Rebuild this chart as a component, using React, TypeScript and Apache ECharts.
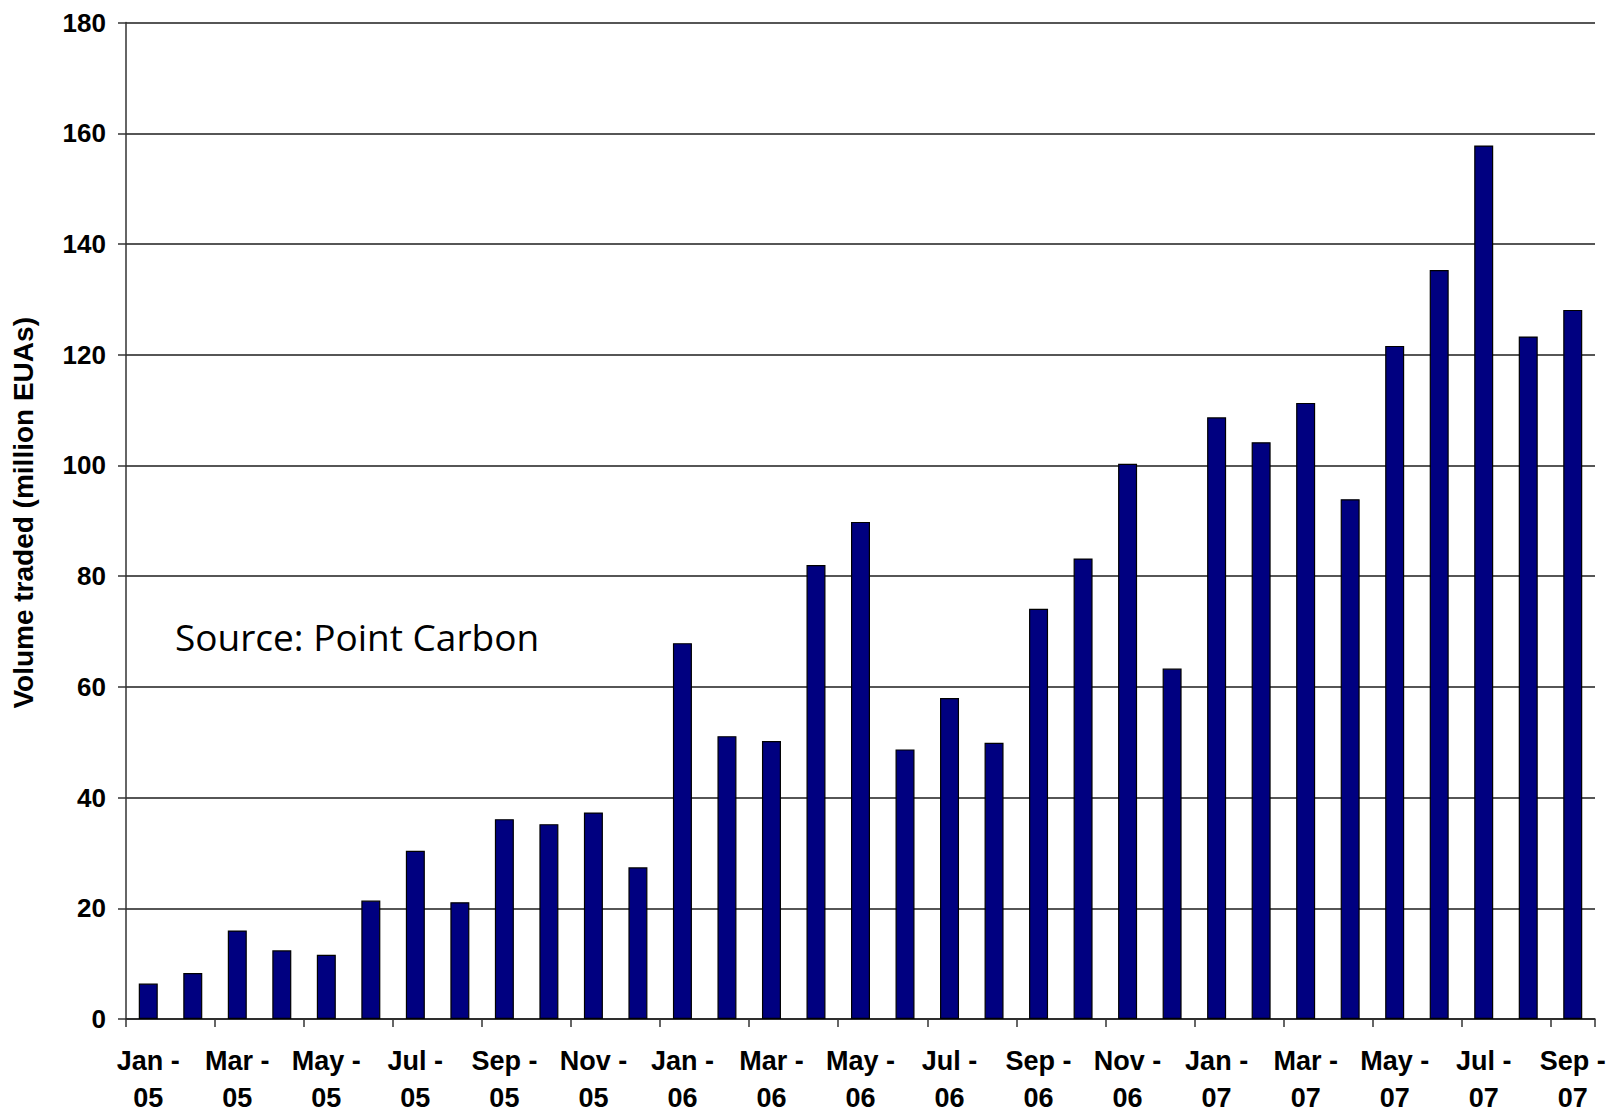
import React, { useEffect, useRef } from "react";
import * as echarts from "echarts";

const categories: string[] = [
  "Jan -\n05", "Feb -\n05", "Mar -\n05", "Apr -\n05", "May -\n05", "Jun -\n05",
  "Jul -\n05", "Aug -\n05", "Sep -\n05", "Oct -\n05", "Nov -\n05", "Dec -\n05",
  "Jan -\n06", "Feb -\n06", "Mar -\n06", "Apr -\n06", "May -\n06", "Jun -\n06",
  "Jul -\n06", "Aug -\n06", "Sep -\n06", "Oct -\n06", "Nov -\n06", "Dec -\n06",
  "Jan -\n07", "Feb -\n07", "Mar -\n07", "Apr -\n07", "May -\n07", "Jun -\n07",
  "Jul -\n07", "Aug -\n07", "Sep -\n07",
];

const volumes: number[] = [
  6.4, 8.3, 16.0, 12.4, 11.6, 21.4, 30.4, 21.1, 36.1, 35.2, 37.3, 27.4,
  67.9, 51.1, 50.2, 82.0, 89.8, 48.7, 58.0, 49.9, 74.1, 83.2, 100.3, 63.3,
  108.7, 104.2, 111.3, 93.9, 121.6, 135.3, 157.8, 123.3, 128.1,
];

const yTitle = "Volume traded (million EUAs)";
const sourceNote = "Source: Point Carbon";

export default function App() {
  const ref = useRef<HTMLDivElement>(null);

  useEffect(() => {
    if (!ref.current) return;
    const chart = echarts.init(ref.current, null, { renderer: "svg" });
    const font = "'Liberation Sans', Arial, sans-serif";
    chart.setOption({
      animation: false,
      backgroundColor: "#ffffff",
      grid: {
        left: 126,
        right: 15,
        top: 22.6,
        bottom: 92,
        containLabel: false,
        outerBoundsMode: "none",
      },
      xAxis: {
        type: "category",
        data: categories,
        boundaryGap: true,
        axisLine: { show: true, lineStyle: { color: "#222", width: 1.5 } },
        axisTick: {
          show: true,
          interval: 1,
          alignWithLabel: false,
          length: 8,
          lineStyle: { color: "#333", width: 1.5 },
        },
        axisLabel: {
          interval: 1,
          margin: 23,
          color: "#000",
          fontFamily: font,
          fontWeight: "bold",
          fontSize: 27,
          lineHeight: 37,
          align: "center",
        },
        splitLine: { show: false },
      },
      yAxis: {
        type: "value",
        min: 0,
        max: 180,
        interval: 20,
        name: yTitle,
        nameLocation: "middle",
        nameGap: 89,
        nameRotate: 90,
        nameTextStyle: {
          color: "#000",
          fontFamily: font,
          fontWeight: "bold",
          fontSize: 28,
          padding: [0, 0, 0, 16],
        },
        axisLine: { show: true, lineStyle: { color: "#333", width: 1.5 } },
        axisTick: { show: true, inside: false, length: 8, lineStyle: { color: "#333", width: 1.5 } },
        axisLabel: {
          margin: 20,
          color: "#000",
          fontFamily: font,
          fontWeight: "bold",
          fontSize: 26,
        },
        splitLine: { show: true, lineStyle: { color: "#1e1e1e", width: 1.5 } },
      },
      series: [
        {
          type: "bar",
          data: volumes,
          barWidth: 19,
          itemStyle: { color: "#000080", borderColor: "#000", borderWidth: 1.2 },
        },
      ],
      graphic: [
        {
          type: "text",
          left: 175,
          top: 618,
          style: {
            text: sourceNote,
            fill: "#000",
            font: "37px 'Open Sans', 'Noto Sans', sans-serif",
          },
        },
      ],
    });
    return () => chart.dispose();
  }, []);

  return (
    <div
      ref={ref}
      style={{ position: "absolute", left: 0, top: 0, width: 1610, height: 1111 }}
    />
  );
}
